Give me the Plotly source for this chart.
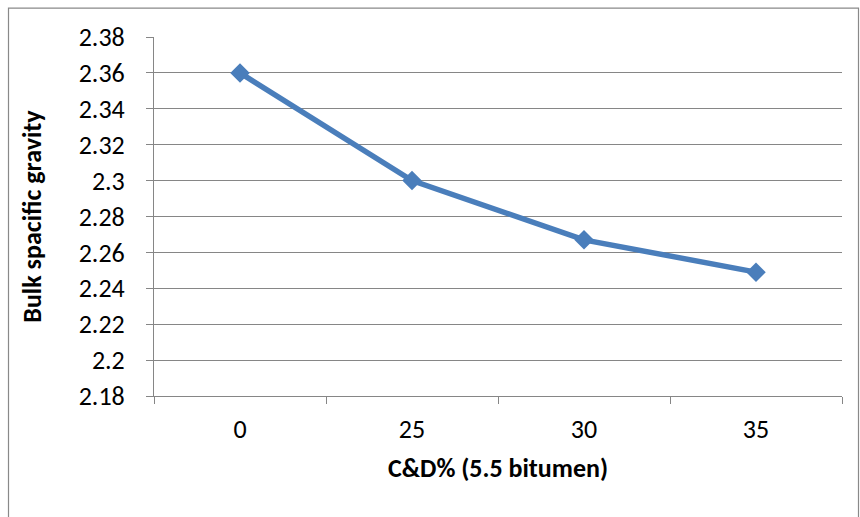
import plotly.graph_objects as go

# C&D content (%) at 5.5 % bitumen and the measured bulk specific gravity
cd_percent = ["0", "25", "30", "35"]
bulk_sg = [2.36, 2.30, 2.267, 2.249]

y_tick_values = [2.18, 2.20, 2.22, 2.24, 2.26, 2.28, 2.30, 2.32, 2.34, 2.36, 2.38]
y_tick_labels = ["2.18", "2.2", "2.22", "2.24", "2.26", "2.28", "2.3", "2.32", "2.34", "2.36", "2.38"]

FONT = "Carlito, Calibri, Lato, sans-serif"
GRID = "#868686"
BLUE = "#4A7EBB"
FS = 26

fig = go.Figure()
fig.add_trace(go.Scatter(
    x=cd_percent,
    y=bulk_sg,
    mode="lines+markers",
    line=dict(color=BLUE, width=5.5),
    marker=dict(symbol="diamond", size=15, color=BLUE),
    showlegend=False,
    hoverinfo="x+y",
))

L, R, T, B = 154, 18, 36.5, 121
W, H = 860, 517
pw = W - L - R
ph = H - T - B

fig.update_layout(
    width=W,
    height=H,
    margin=dict(l=L, r=R, t=T, b=B, pad=0),
    paper_bgcolor="white",
    plot_bgcolor="white",
    font=dict(family=FONT, size=FS, color="black"),
    xaxis=dict(
        type="category",
        range=[-0.5, 3.5],
        showgrid=False,
        showline=True,
        linecolor=GRID,
        linewidth=1,
        ticks="outside",
        tickson="boundaries",
        ticklen=7,
        tickcolor=GRID,
        tickwidth=1,
        ticklabelstandoff=10,
        tickfont=dict(family=FONT, size=FS),
        title=dict(text="<b>C&D% (5.5 bitumen)</b>", font=dict(family=FONT, size=FS), standoff=14),
        zeroline=False,
    ),
    yaxis=dict(
        range=[2.18, 2.38],
        tickvals=y_tick_values,
        ticktext=y_tick_labels,
        showgrid=True,
        gridcolor=GRID,
        gridwidth=1,
        showline=True,
        linecolor=GRID,
        linewidth=1,
        ticks="outside",
        ticklen=7,
        tickcolor=GRID,
        tickwidth=1,
        ticklabelstandoff=16,
        tickfont=dict(family=FONT, size=FS),
        title=dict(text="<b>Bulk spacific gravity</b>", font=dict(family=FONT, size=FS), standoff=29),
        zeroline=False,
    ),
)

# outer chart border
fig.add_shape(
    type="rect",
    xref="paper", yref="paper",
    x0=(8.5 - L) / pw, x1=(858.5 - L) / pw,
    y0=(H - B - 530) / ph, y1=(H - B - 7.5) / ph,
    line=dict(color="#898989", width=1.2),
    fillcolor="rgba(0,0,0,0)",
    layer="below",
)

fig.write_html("out.html")
